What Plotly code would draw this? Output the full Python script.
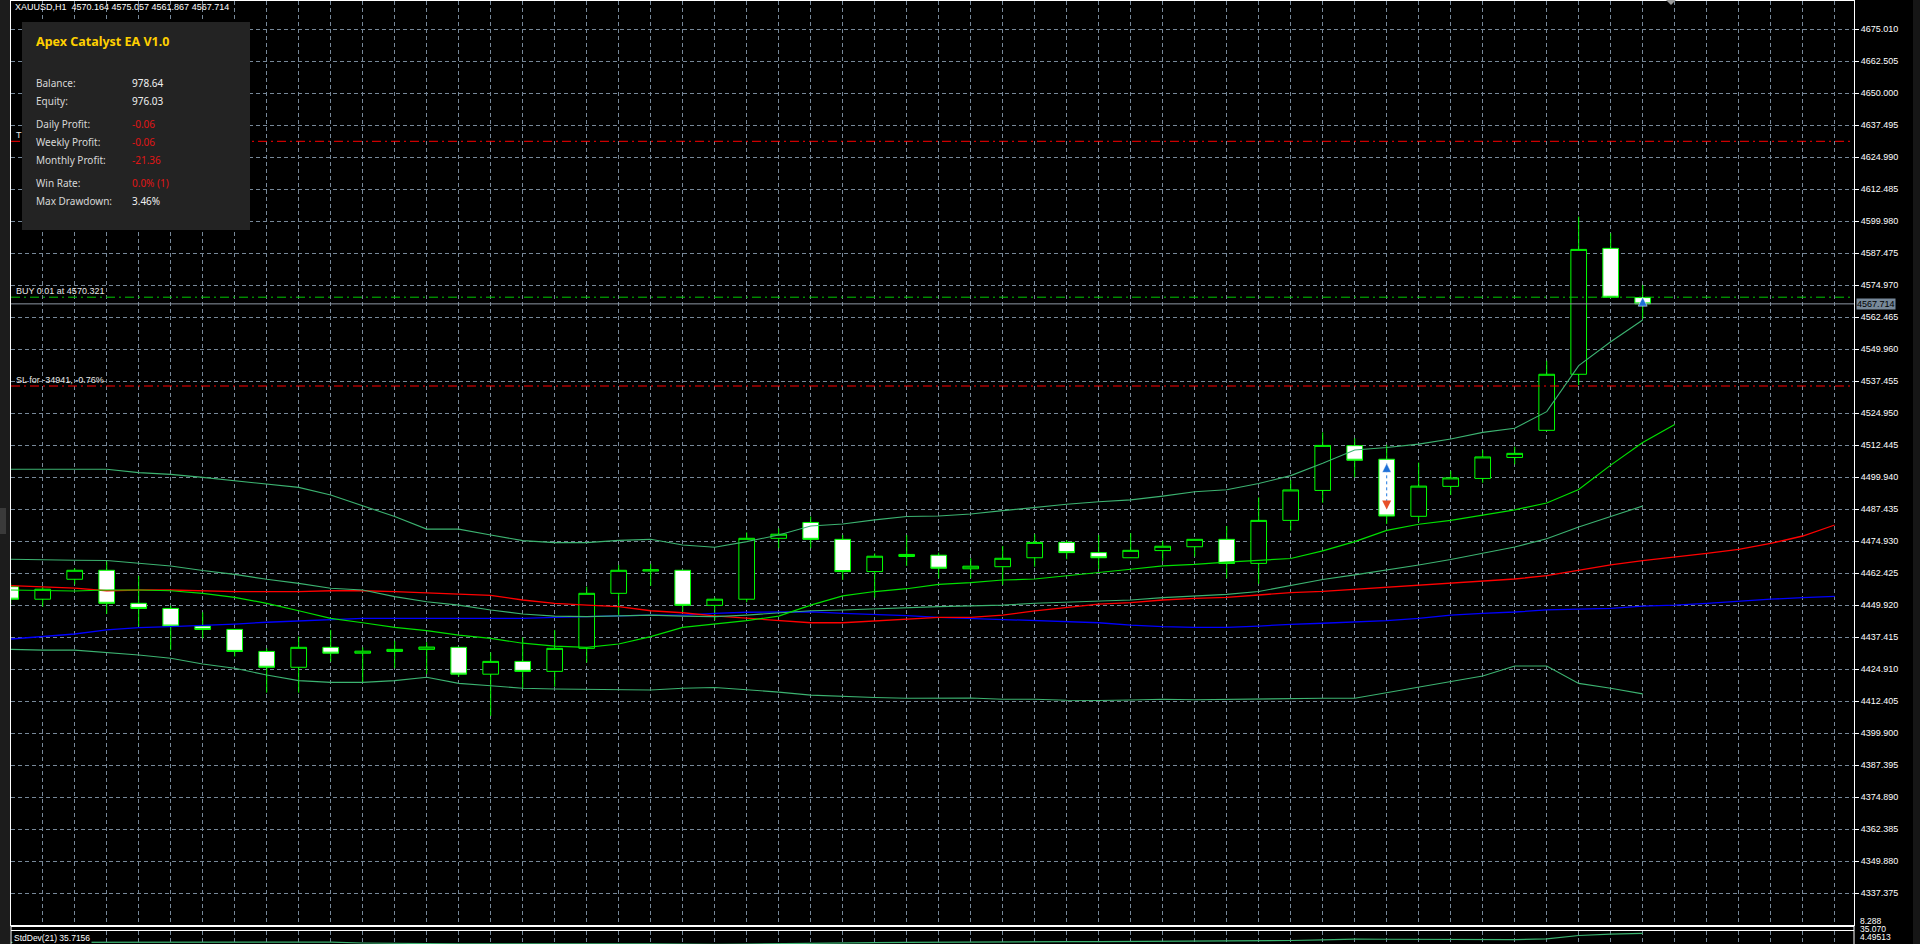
import plotly.graph_objects as go

W, H = 1920, 944
PX_L, PX_R = 11, 1854          # main chart frame (px)
PX_T, PX_B = 1, 925
BAR_PX0, BAR_STEP = 10.7, 32   # pixel of bar 0 and bar spacing
FIRST_TICK_PX, GRID_PX = 29.3, 32

header_text = "XAUUSD,H1  4570.164 4575.057 4561.867 4567.714"

opens = [4457.2, 4452.3, 4460.1, 4463.6, 4450.7, 4448.7, 4441.8, 4440.5, 4431.9, 4425.7,
         4433.5, 4431.2, 4431.9, 4432.7, 4433.5, 4423.0, 4428.0, 4424.1, 4433.1, 4454.6,
         4463.3, 4463.6, 4449.9, 4452.3, 4476.1, 4482.3, 4475.7, 4463.1, 4469.0, 4469.5,
         4464.2, 4465.0, 4468.5, 4474.5, 4470.5, 4468.5, 4471.3, 4472.8, 4475.7, 4466.3,
         4483.1, 4494.8, 4512.3, 4507.0, 4484.7, 4496.4, 4499.5, 4507.7, 4518.3, 4540.2,
         4589.4, 4570.164]
highs = [4458.5, 4457.2, 4464.4, 4467.0, 4461.4, 4449.8, 4447.2, 4440.6, 4433.1, 4437.7,
         4440.3, 4433.5, 4436.1, 4435.5, 4433.6, 4431.5, 4437.4, 4440.3, 4457.2, 4465.7,
         4466.1, 4463.8, 4453.0, 4478.4, 4480.0, 4484.6, 4477.4, 4470.2, 4477.4, 4470.5,
         4468.3, 4473.1, 4477.7, 4475.4, 4477.4, 4478.1, 4475.1, 4475.8, 4480.9, 4492.1,
         4498.9, 4517.5, 4515.2, 4512.6, 4505.7, 4502.5, 4510.6, 4511.9, 4545.5, 4601.8,
         4595.3, 4575.057]
lows = [4450.5, 4449.4, 4458.1, 4446.5, 4441.6, 4432.5, 4437.0, 4429.9, 4415.8, 4415.8,
        4427.9, 4419.7, 4425.3, 4423.0, 4422.0, 4406.7, 4417.5, 4418.1, 4427.5, 4446.1,
        4457.5, 4447.4, 4444.2, 4451.1, 4472.2, 4472.2, 4459.8, 4452.9, 4465.3, 4460.5,
        4460.5, 4457.9, 4465.0, 4467.9, 4464.0, 4468.4, 4467.2, 4468.9, 4460.5, 4458.3,
        4479.1, 4490.0, 4499.9, 4481.7, 4482.6, 4493.0, 4497.8, 4505.0, 4518.2, 4536.0,
        4570.2, 4561.867]
closes = [4452.3, 4456.2, 4463.6, 4450.7, 4448.7, 4441.8, 4440.5, 4431.9, 4425.7, 4433.5,
          4431.2, 4432.0, 4432.7, 4433.6, 4423.0, 4428.0, 4424.1, 4433.1, 4454.6, 4463.6,
          4463.8, 4449.9, 4452.3, 4476.1, 4477.7, 4475.7, 4463.1, 4469.1, 4469.8, 4464.4,
          4465.2, 4468.3, 4474.5, 4470.5, 4468.5, 4471.4, 4473.0, 4475.7, 4466.3, 4483.1,
          4495.0, 4512.4, 4506.6, 4484.8, 4496.5, 4499.7, 4507.9, 4509.3, 4540.2, 4589.0,
          4570.3, 4567.714]

bb_upper = [4503.1, 4503.1, 4503.1, 4503.1, 4501.75, 4501.1, 4499.9, 4498.6, 4497.2, 4496.0,
            4493.0, 4488.7, 4484.6, 4479.7, 4479.7, 4477.4, 4475.2, 4474.4, 4474.4, 4475.3,
            4475.7, 4473.5, 4472.6, 4474.8, 4477.4, 4480.9, 4481.7, 4483.3, 4484.6, 4484.8,
            4485.6, 4486.9, 4488.2, 4489.4, 4490.4, 4491.1, 4492.6, 4494.3, 4495.1, 4497.5,
            4500.6, 4505.4, 4510.6, 4511.6, 4512.9, 4514.9, 4517.5, 4519.1, 4525.6, 4543.6,
            4552.9, 4561.4]
bb_middle = [4467.9, 4467.6, 4467.5, 4467.4, 4466.3, 4465.3, 4463.5, 4462.0, 4460.1, 4458.5,
             4456.6, 4455.9, 4453.3, 4451.3, 4450.0, 4448.1, 4446.5, 4445.7, 4445.5, 4445.7,
             4446.1, 4445.7, 4445.5, 4446.1, 4446.8, 4447.8, 4448.1, 4448.6, 4449.1, 4449.4,
             4449.7, 4450.0, 4450.7, 4451.1, 4451.5, 4452.0, 4452.9, 4453.6, 4454.2, 4455.3,
             4457.7, 4460.0, 4461.8, 4463.7, 4465.7, 4467.8, 4470.3, 4472.7, 4475.9, 4480.5,
             4484.6, 4488.7]
bb_lower = [4432.7, 4432.4, 4432.4, 4431.4, 4430.5, 4429.2, 4427.0, 4425.3, 4422.7, 4420.5,
            4419.8, 4419.8, 4420.5, 4421.8, 4419.4, 4418.5, 4417.5, 4417.2, 4417.1, 4417.1,
            4416.8, 4417.5, 4417.8, 4416.9, 4416.0, 4414.8, 4414.3, 4413.9, 4413.6, 4413.6,
            4413.7, 4413.2, 4413.2, 4412.8, 4412.7, 4412.9, 4413.2, 4413.0, 4413.2, 4413.2,
            4413.6, 4413.6, 4413.6, 4415.8, 4417.9, 4420.1, 4422.3, 4426.2, 4426.2, 4419.4,
            4417.5, 4415.3]
ma_lime = [4455.9, 4455.6, 4455.5, 4455.9, 4455.9, 4455.6, 4454.6, 4453.0, 4450.7, 4447.8,
           4444.8, 4443.1, 4441.3, 4440.0, 4438.3, 4437.0, 4435.1, 4434.0, 4433.5, 4434.8,
           4437.7, 4441.3, 4442.5, 4443.9, 4445.7, 4450.0, 4453.6, 4455.3, 4456.4, 4458.1,
           4458.8, 4459.8, 4460.2, 4461.4, 4462.7, 4464.0, 4465.3, 4465.9, 4466.8, 4467.4,
           4468.2, 4471.2, 4474.8, 4479.2, 4481.6, 4483.1, 4485.2, 4487.2, 4489.9, 4495.2,
           4504.7, 4513.5, 4520.6]
ma_red = [4457.6, 4457.2, 4456.6, 4455.6, 4455.9, 4455.9, 4455.5, 4455.3, 4455.3, 4455.3,
          4455.6, 4455.6, 4455.3, 4454.9, 4454.3, 4453.8, 4452.0, 4450.7, 4450.0, 4449.4,
          4447.8, 4447.0, 4445.75, 4444.8, 4443.9, 4443.1, 4443.1, 4443.8, 4444.4, 4445.2,
          4445.2, 4446.1, 4447.7, 4449.1, 4450.4, 4450.95, 4452.0, 4452.6, 4453.0, 4453.95,
          4454.9, 4455.4, 4456.2, 4456.9, 4457.7, 4458.5, 4459.3, 4460.2, 4461.5, 4463.5,
          4465.7, 4467.4, 4468.7, 4470.2, 4471.8, 4474.1, 4477.0, 4481.3]
ma_blue = [4436.75, 4437.7, 4438.7, 4440.3, 4441.2, 4441.6, 4442.0, 4442.6, 4443.3, 4443.8,
           4444.4, 4444.8, 4444.8, 4444.8, 4444.8, 4444.6, 4444.8, 4445.2, 4445.5, 4445.7,
           4446.1, 4446.1, 4446.8, 4447.2, 4447.3, 4447.4, 4446.8, 4446.4, 4445.9, 4445.2,
           4444.8, 4444.4, 4443.9, 4443.5, 4443.1, 4442.2, 4441.6, 4441.3, 4441.3, 4441.8,
           4442.5, 4442.9, 4443.3, 4443.9, 4444.8, 4446.1, 4446.8, 4447.3, 4448.1, 4448.5,
           4448.7, 4449.6, 4450.0, 4450.7, 4451.6, 4452.3, 4452.9, 4453.4]
stddev = [17.6, 17.6, 17.6, 17.6, 17.6, 17.9, 18.2, 18.3, 18.5, 18.8,
          18.2, 16.4, 15.6, 14.2, 14.8, 14.6, 14.3, 14.2, 14.4, 14.6,
          14.8, 13.9, 13.5, 14.3, 15.3, 16.5, 16.8, 17.3, 17.7, 17.7,
          18.0, 18.4, 18.8, 19.1, 19.4, 19.5, 19.8, 20.3, 20.5, 21.0,
          21.5, 22.6, 24.4, 24.0, 23.6, 23.5, 23.5, 23.2, 24.7, 31.6,
          34.2, 35.7]

price_ticks = [4675.010, 4662.505, 4650.000, 4637.495, 4624.990, 4612.485, 4599.980,
               4587.475, 4574.970, 4562.465, 4549.960, 4537.455, 4524.950, 4512.445,
               4499.940, 4487.435, 4474.930, 4462.425, 4449.920, 4437.415, 4424.910,
               4412.405, 4399.900, 4387.395, 4374.890, 4362.385, 4349.880, 4337.375]
price_tick_labels = ["4675.010", "4662.505", "4650.000", "4637.495", "4624.990", "4612.485",
                     "4599.980", "4587.475", "4574.970", "4562.465", "4549.960", "4537.455",
                     "4524.950", "4512.445", "4499.940", "4487.435", "4474.930", "4462.425",
                     "4449.920", "4437.415", "4424.910", "4412.405", "4399.900", "4387.395",
                     "4374.890", "4362.385", "4349.880", "4337.375"]

buy_price = 4570.321
bid_price = 4567.714
sl_price = 4535.62
tp_price = 4631.24
trade_bar = 43
trade_open_price = 4505.4
trade_close_price = 4487.4
current_bar = 51

buy_label = "BUY 0.01 at 4570.321"
sl_label = "SL for -34941, -0.76%"
stddev_label = "StdDev(21) 35.7156"
sub_axis_labels = ["8.288", "35.070", "4.49513"]

panel_title = "Apex Catalyst EA V1.0"
panel_rows = [("Balance:", "978.64", "#f0f0f0"),
              ("Equity:", "976.03", "#f0f0f0"),
              ("Daily Profit:", "-0.06", "#e01515"),
              ("Weekly Profit:", "-0.06", "#e01515"),
              ("Monthly Profit:", "-21.36", "#e01515"),
              ("Win Rate:", "0.0% (1)", "#e01515"),
              ("Max Drawdown:", "3.46%", "#f0f0f0")]
panel_row_px = [83.3, 101.0, 124.3, 142.0, 160.0, 183.3, 201.0]

# ---------------------------------------------------------------- helpers
bars = list(range(len(opens)))
def idx(series):
    return list(range(len(series)))

def py(px):
    return 1 - px / H

def pxx(px):
    return px / W

tick_step = price_ticks[0] - price_ticks[1]
y_top = price_ticks[0] + (FIRST_TICK_PX - PX_T) * tick_step / GRID_PX
y_bot = price_ticks[0] - (PX_B - FIRST_TICK_PX) * tick_step / GRID_PX
x_lo = (PX_L - BAR_PX0) / BAR_STEP
x_hi = (PX_R - BAR_PX0) / BAR_STEP

GRID = "#778899"
LIME = "#00FF00"
SEA = "#3CB371"
MT = "Liberation Sans, Arial, sans-serif"
PF = "Noto Sans, Open Sans, sans-serif"
GDASH = "4px,3px"

fig = go.Figure()

fig.add_trace(go.Candlestick(
    x=bars, open=opens, high=highs, low=lows, close=closes,
    increasing=dict(line=dict(color=LIME, width=1), fillcolor="#000000"),
    decreasing=dict(line=dict(color=LIME, width=1), fillcolor="#FFFFFF"),
    whiskerwidth=0, hoverinfo="skip", showlegend=False))

def line(xv, yv, color, width=1, dash="solid", yaxis="y"):
    fig.add_trace(go.Scatter(x=xv, y=yv, mode="lines", yaxis=yaxis,
                             line=dict(color=color, width=width, dash=dash),
                             hoverinfo="skip", showlegend=False))

# trade / price lines
xl = [x_lo, x_hi]
line(xl, [tp_price, tp_price], "#FF0000", 1, "9px,4px,2px,4px")
line(xl, [sl_price, sl_price], "#FF0000", 1, "9px,4px,2px,4px")
line(xl, [buy_price, buy_price], "#00C800", 1, "9px,4px,2px,4px")
line(xl, [bid_price, bid_price], "#8E97A3", 1)

# indicators
line(idx(ma_blue), ma_blue, "#0000FF", 1.3)
line(idx(ma_red), ma_red, "#FF0000", 1.3)
line(idx(bb_upper), bb_upper, SEA, 1.1)
line(idx(bb_middle), bb_middle, SEA, 1.1)
line(idx(bb_lower), bb_lower, SEA, 1.1)
line(idx(ma_lime), ma_lime, "#00E000", 1.2)

# closed trade marker
line([trade_bar, trade_bar], [trade_open_price, trade_close_price], "#1E78E0", 1, "dot")
fig.add_trace(go.Scatter(x=[trade_bar, current_bar], y=[trade_open_price, buy_price], mode="markers",
                         marker=dict(symbol="arrow-up", size=9, color="#1E6FD8",
                                     line=dict(color="#FFFFFF", width=0.5)),
                         hoverinfo="skip", showlegend=False))
fig.add_trace(go.Scatter(x=[trade_bar], y=[trade_close_price], mode="markers",
                         marker=dict(symbol="arrow-down", size=9, color="#E8502A"),
                         hoverinfo="skip", showlegend=False))

# StdDev sub window
line(idx(stddev), stddev, SEA, 1.2, yaxis="y2")

shapes = []
def rect(x0, y0, x1, y1, color, layer="above"):
    shapes.append(dict(type="rect", xref="paper", yref="paper", x0=pxx(x0), x1=pxx(x1),
                       y0=py(y0), y1=py(y1), fillcolor=color, line=dict(width=0), layer=layer))
def hline(x0, x1, y, color="#FFFFFF", w=1):
    shapes.append(dict(type="line", xref="paper", yref="paper", x0=pxx(x0), x1=pxx(x1),
                       y0=py(y), y1=py(y), line=dict(color=color, width=w), layer="above"))
def vline(x, y0, y1, color="#FFFFFF", w=1):
    shapes.append(dict(type="line", xref="paper", yref="paper", x0=pxx(x), x1=pxx(x),
                       y0=py(y0), y1=py(y1), line=dict(color=color, width=w), layer="above"))

# info panel
rect(22, 22, 250, 230, "#232323")
# window chrome
rect(0, 0, 10, H, "#1c1c1c")
rect(0, 508, 6, 534, "#3a3a3a")
rect(1913, 0, W, H, "#161616")
hline(PX_L, PX_R, 926.5)
hline(PX_L, PX_R, 930.5)
vline(PX_L, 926, H)
vline(PX_R, 926, H)
shapes.append(dict(type="path", xref="paper", yref="paper",
                   path=f"M {pxx(1666)} {py(0)} L {pxx(1676)} {py(0)} L {pxx(1671)} {py(5)} Z",
                   fillcolor="#9a9a9a", line=dict(width=0), layer="above"))

ann = []
def text(x, ypx, s, color="#FFFFFF", size=9, family=MT, bold=False, **kw):
    if bold:
        s = f"<b>{s}</b>"
    ann.append(dict(xref="paper", yref="paper", x=pxx(x), y=py(ypx), text=s, showarrow=False,
                    xanchor="left", yanchor="middle", font=dict(color=color, size=size, family=family),
                    **kw))

text(13, 7.3, header_text)
text(34, 41.5, panel_title, color="#FFD000", size=12.5, family=PF, bold=True)
for (lab, val, col), ypx in zip(panel_rows, panel_row_px):
    text(34, ypx, lab, color="#d8d8d8", size=10, family=PF)
    text(130, ypx, val, color=col, size=10, family=PF)

def price_text(x, price, s, shift):
    ann.append(dict(xref="paper", yref="y", x=pxx(x), y=price, yshift=shift, text=s,
                    showarrow=False, xanchor="left", yanchor="middle",
                    font=dict(color="#E8E8E8", size=9, family=MT)))
price_text(14, buy_price, buy_label, 6)
price_text(14, sl_price, sl_label, 6)
price_text(14, tp_price, "T", 6)

ann.append(dict(xref="paper", yref="y", x=pxx(1856), y=bid_price, text=f"{bid_price:.3f}",
                showarrow=False, xanchor="left", yanchor="middle", bgcolor="#778899",
                borderpad=0, font=dict(color="#000000", size=9, family=MT)))

text(12, 937.5, stddev_label, bgcolor="#000000", size=8.5)
for s, ypx in zip(sub_axis_labels, [921, 929, 936.5]):
    text(1858, ypx, s, size=8.5)

fig.update_layout(
    width=W, height=H, margin=dict(l=0, r=0, t=0, b=0),
    paper_bgcolor="#000000", plot_bgcolor="#000000", template="none",
    showlegend=False, shapes=shapes, annotations=ann, hovermode=False,
    xaxis=dict(domain=[pxx(PX_L), pxx(PX_R)], range=[x_lo, x_hi], anchor="y",
               rangeslider=dict(visible=False), showticklabels=False, ticks="",
               tickvals=list(range(0, int(x_hi) + 1)), showgrid=True, gridcolor=GRID,
               gridwidth=1, griddash=GDASH, zeroline=False,
               showline=True, linecolor="#FFFFFF", linewidth=1, mirror=True),
    yaxis=dict(domain=[py(PX_B), py(PX_T)], range=[y_bot, y_top], side="right", anchor="x",
               tickvals=price_ticks, ticktext=price_tick_labels, ticks="outside", ticklen=4,
               tickcolor="#FFFFFF", tickfont=dict(color="#FFFFFF", size=9, family=MT),
               showgrid=True, gridcolor=GRID, gridwidth=1, griddash=GDASH, zeroline=False,
               showline=True, linecolor="#FFFFFF", linewidth=1, mirror=True),
    yaxis2=dict(domain=[0, py(931)], range=[14.4, 40.7], anchor="x", showgrid=False,
                showticklabels=False, ticks="", zeroline=False, showline=False),
)

fig.write_html("out.html", config={"displayModeBar": False, "staticPlot": True},
               post_script="document.body.style.margin='0';document.body.style.overflow='hidden';")
